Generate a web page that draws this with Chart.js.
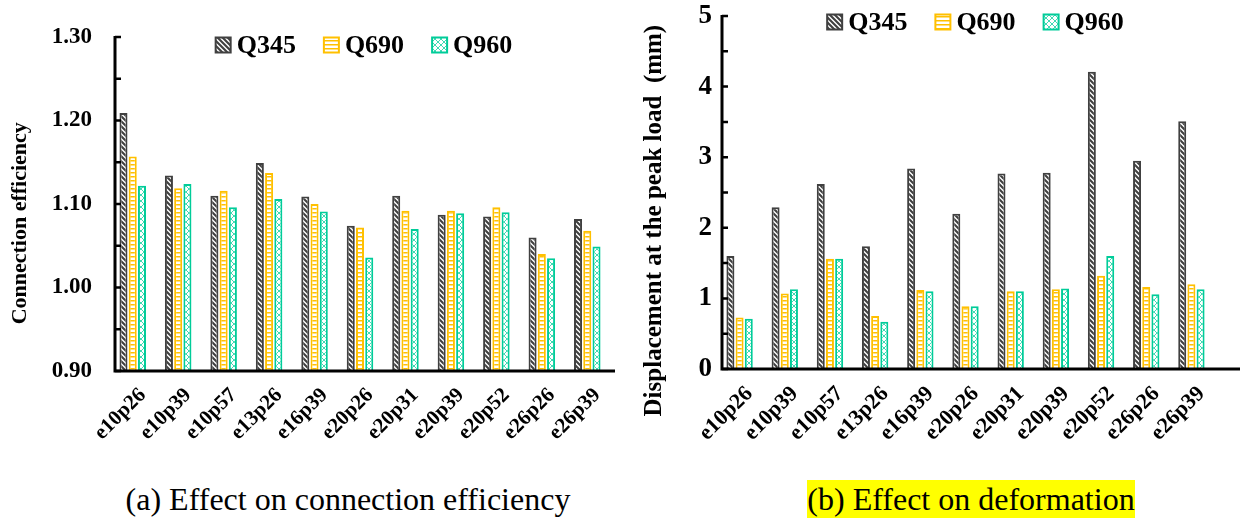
<!DOCTYPE html>
<html lang="en">
<head>
    <meta charset="UTF-8">
    <title>Connection efficiency and deformation</title>
    <script src="https://cdn.jsdelivr.net/npm/chart.js"></script>
    <style>
        body {
            margin: 0;
            width: 1244px;
            height: 520px;
            background: #ffffff;
            overflow: hidden;
            position: relative;
            font-family: 'Liberation Serif', 'Times New Roman', serif;
        }
        .panel { position: absolute; top: 0; }
        .caption {
            position: absolute;
            font-size: 32px;
            line-height: 38px;
            height: 38px;
            text-align: center;
            color: #000;
            white-space: nowrap;
        }
    </style>
</head>
<body>
    <canvas id="chart1" class="panel" style="left:0" width="620" height="460"></canvas>
    <canvas id="chart2" class="panel" style="left:620px" width="624" height="460"></canvas>
    <div class="caption" style="left:118px; top:480px; width:460px;">(a) Effect on connection efficiency</div>
    <div class="caption" style="left:807px; top:480px; width:328px; background:#ffff00;">(b) Effect on deformation</div>

    <script>
        // categorías y series
        const specimens = ['e10p26', 'e10p39', 'e10p57', 'e13p26', 'e16p39', 'e20p26', 'e20p31', 'e20p39', 'e20p52', 'e26p26', 'e26p39'];
        const steelGrades = ['Q345', 'Q690', 'Q960'];

        // (a) connection efficiency
        const effQ345 = [1.209, 1.134, 1.110, 1.149, 1.109, 1.074, 1.110, 1.087, 1.085, 1.060, 1.082];
        const effQ690 = [1.157, 1.119, 1.116, 1.137, 1.100, 1.072, 1.092, 1.092, 1.096, 1.040, 1.068];
        const effQ960 = [1.122, 1.124, 1.096, 1.106, 1.091, 1.036, 1.070, 1.089, 1.090, 1.035, 1.049];
        const effTickLabels = ['0.90', '1.00', '1.10', '1.20', '1.30'];

        // (b) displacement at the peak load (mm)
        const dispQ345 = [1.60, 2.29, 2.62, 1.74, 2.84, 2.20, 2.77, 2.78, 4.21, 2.95, 3.51];
        const dispQ690 = [0.73, 1.07, 1.56, 0.75, 1.12, 0.89, 1.10, 1.13, 1.32, 1.16, 1.20];
        const dispQ960 = [0.71, 1.13, 1.56, 0.67, 1.10, 0.89, 1.10, 1.14, 1.60, 1.06, 1.13];
        const dispTickLabels = ['0', '1', '2', '3', '4', '5'];

        const colors = ['#404040', '#ffc000', '#00cc99'];
        const serif = "'Liberation Serif', 'Times New Roman', serif";

        function makePattern(size, draw) {
            const c = document.createElement('canvas');
            c.width = size;
            c.height = size;
            const g = c.getContext('2d');
            g.fillStyle = '#ffffff';
            g.fillRect(0, 0, size, size);
            draw(g, size);
            return g.createPattern(c, 'repeat');
        }

        // rayas diagonales, escalera, cruz diagonal
        const patterns = [
            makePattern(5, (g, s) => {
                g.strokeStyle = colors[0];
                g.lineWidth = 2.1;
                g.beginPath();
                g.moveTo(-1, -1); g.lineTo(s + 1, s + 1);
                g.moveTo(-1, s - 1); g.lineTo(1, s + 1);
                g.moveTo(s - 1, -1); g.lineTo(s + 1, 1);
                g.stroke();
            }),
            makePattern(4, (g, s) => {
                g.fillStyle = colors[1];
                g.fillRect(0, 0, s, 1.5);
            }),
            makePattern(6, (g, s) => {
                g.strokeStyle = 'rgba(0, 204, 153, 0.75)';
                g.lineWidth = 1;
                g.beginPath();
                g.moveTo(0, 0); g.lineTo(s, s);
                g.moveTo(s, 0); g.lineTo(0, s);
                g.stroke();
            })
        ];

        function datasetsFrom(seriesList) {
            return seriesList.map((values, i) => ({
                label: steelGrades[i],
                data: values,
                backgroundColor: patterns[i],
                borderColor: colors[i],
                borderWidth: 2,
                categoryPercentage: 0.61,
                barPercentage: 0.87
            }));
        }

        // ejes en forma de L con marcas hacia dentro
        const axisLines = {
            id: 'axisLines',
            afterDatasetsDraw(chart, args, opts) {
                const { ctx, chartArea } = chart;
                const y = chart.scales.y;
                const x0 = chartArea.left + opts.shift;
                ctx.save();
                ctx.strokeStyle = '#000000';
                ctx.lineWidth = 3;
                ctx.beginPath();
                ctx.moveTo(x0, y.getPixelForValue(y.max) - 1);
                ctx.lineTo(x0, chartArea.bottom);
                ctx.lineTo(chart.width - opts.endGap, chartArea.bottom);
                ctx.stroke();
                ctx.lineWidth = 2.5;
                ctx.beginPath();
                y.ticks.forEach(t => {
                    const py = y.getPixelForValue(t.value);
                    ctx.moveTo(x0, py);
                    ctx.lineTo(x0 + 6, py);
                });
                ctx.stroke();
                ctx.restore();
            }
        };

        // leyenda dentro del área del gráfico
        const innerLegend = {
            id: 'innerLegend',
            afterDraw(chart, args, opts) {
                const { ctx, chartArea } = chart;
                ctx.save();
                ctx.font = 'bold ' + opts.size + 'px ' + serif;
                ctx.textBaseline = 'middle';
                const items = chart.data.datasets.map(ds => ({ ds, w: opts.box + opts.gap + ctx.measureText(ds.label).width }));
                const total = items.reduce((a, it) => a + it.w, 0) + opts.spacing * (items.length - 1);
                let cx = (chartArea.left + chartArea.right) / 2 + opts.dx - total / 2;
                const cy = chartArea.top + opts.dy;
                items.forEach(it => {
                    ctx.fillStyle = it.ds.backgroundColor;
                    ctx.fillRect(cx, cy - opts.box / 2, opts.box, opts.box);
                    ctx.strokeStyle = it.ds.borderColor;
                    ctx.lineWidth = 2;
                    ctx.strokeRect(cx, cy - opts.box / 2, opts.box, opts.box);
                    ctx.fillStyle = '#000000';
                    ctx.fillText(it.ds.label, cx + opts.box + opts.gap, cy + 1);
                    cx += it.w + opts.spacing;
                });
                ctx.restore();
            }
        };

        function crearGrafico(id, cfg) {
            const ctx = document.getElementById(id).getContext('2d');
            return new Chart(ctx, {
                type: 'bar',
                data: {
                    labels: specimens,
                    datasets: datasetsFrom(cfg.series)
                },
                options: {
                    responsive: false,
                    animation: false,
                    layout: { padding: { top: cfg.top, right: cfg.right, left: 0, bottom: 0 } },
                    scales: {
                        x: {
                            grid: { display: false },
                            border: { display: false },
                            ticks: {
                                color: '#000000',
                                font: { family: serif, size: cfg.xFont, weight: 'bold' },
                                minRotation: 45,
                                maxRotation: 45,
                                autoSkip: false,
                                padding: 4,
                                labelOffset: cfg.labelOffset
                            },
                            afterFit: s => { s.height = cfg.xHeight; }
                        },
                        y: {
                            min: cfg.min,
                            max: cfg.max,
                            beginAtZero: false,
                            grid: { display: false },
                            border: { display: false },
                            ticks: {
                                stepSize: cfg.step,
                                autoSkip: false,
                                color: '#000000',
                                padding: cfg.yPad,
                                font: { family: serif, size: cfg.yFont, weight: 'bold', lineHeight: 1 },
                                callback: v => cfg.tickLabels.find(l => Math.abs(parseFloat(l) - v) < 1e-6) || ''
                            },
                            title: {
                                display: true,
                                text: cfg.title,
                                color: '#000000',
                                font: { family: serif, size: cfg.titleFont, weight: 'bold' },
                                padding: { top: cfg.titlePad, bottom: 0 }
                            },
                            afterFit: s => { s.width = cfg.yWidth; }
                        }
                    },
                    plugins: {
                        legend: { display: false },
                        tooltip: { enabled: false },
                        axisLines: { shift: 5, endGap: cfg.endGap },
                        innerLegend: cfg.legend
                    }
                },
                plugins: [axisLines, innerLegend]
            });
        }

        crearGrafico('chart1', {
            series: [effQ345, effQ690, effQ960],
            min: 0.9, max: 1.3, step: 0.05,
            tickLabels: effTickLabels,
            title: 'Connection efficiency       ',
            titleFont: 22, titlePad: 7,
            yFont: 23, yPad: 10, yWidth: 110,
            xFont: 21, xHeight: 89, labelOffset: 10,
            top: 37, right: 10,
            endGap: 5,
            legend: { size: 26, box: 15, gap: 6, spacing: 28, dx: 4, dy: 8 }
        });

        crearGrafico('chart2', {
            series: [dispQ345, dispQ690, dispQ960],
            min: 0, max: 5, step: 0.5,
            tickLabels: dispTickLabels,
            title: 'Displacement at the peak load  (mm)         ',
            titleFont: 25, titlePad: 20,
            yFont: 27, yPad: -3, yWidth: 97,
            xFont: 22, xHeight: 91, labelOffset: 10,
            top: 16, right: 30,
            endGap: 4,
            legend: { size: 26, box: 15, gap: 6, spacing: 28, dx: 10, dy: 6 }
        });
    </script>
</body>
</html>
